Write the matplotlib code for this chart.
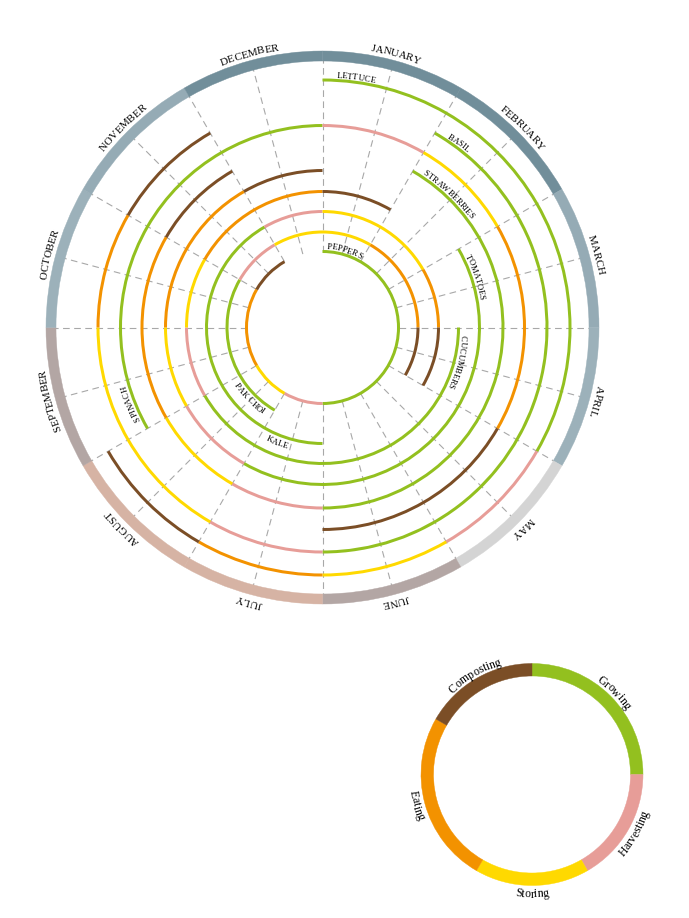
import numpy as np
import matplotlib
matplotlib.use('Agg')
import matplotlib.pyplot as plt
from matplotlib.font_manager import FontProperties, findfont
from matplotlib.ft2font import FT2Font

# ---------------- data ----------------
months = ['JANUARY', 'FEBRUARY', 'MARCH', 'APRIL', 'MAY', 'JUNE', 'JULY',
          'AUGUST', 'SEPTEMBER', 'OCTOBER', 'NOVEMBER', 'DECEMBER']
month_colors = ['#718e9a', '#718e9a', '#95abb5', '#9cb1ba', '#d4d4d4', '#b3a6a4',
                '#d6b3a4', '#d6b3a4', '#b3a6a4', '#9cb1ba', '#95abb5', '#718e9a']

phases = ['Growing', 'Harvesting', 'Storing', 'Eating', 'Composting']
phase_colors = ['#93c01f', '#e79d98', '#ffd900', '#f39200', '#7b4e26']
legend_share = [3, 2, 2, 3, 2]

# crops from the outermost ring to the innermost one
crops = ['LETTUCE', 'BASIL', 'SPINACH', 'STRAWBERRIES', 'TOMATOES',
         'CUCUMBERS', 'KALE', 'PAK CHOI', 'PEPPERS']
crop_start_month = [0, 1, 8, 1, 2, 3, 6, 7, 0]
growing_months = [4, 5, 4, 5, 5, 5, 5, 3, 6]
harvesting_months = [1, 1, 1, 1, 1, 1, 1, 1, 1]
storing_months = [1, 2, 1, 1, 1, 1, 2, 2, 1]
eating_months = [1, 1, 2, 2, 2, 2, 1, 2, 2]
composting_months = [1, 1, 2, 1, 1, 1, 1, 1, 1]

# ---------------- layout / style ----------------
W, H, DPI = 689, 918, 100
FONT = ['Liberation Serif', 'DejaVu Serif']
TEXT_COLOR = '#000000'
SERIF_PATH = findfont(FontProperties(family='Liberation Serif'))
plt.rcParams['font.family'] = FONT

RING_RADII = [247.5, 224.5, 202, 180.5, 157, 136, 116, 95.5, 76]
ARC_W = 3.0
MONTH_R0, MONTH_R1 = 266.5, 276.5
LABEL_OFFSET = 3.2


def char_advances(text, size_pt):
    f = FT2Font(SERIF_PATH)
    f.set_size(size_pt, DPI)
    return np.array([f.load_char(ord(c)).linearHoriAdvance / 65536.0 for c in text])


def text_sweep(text, r_base, size):
    return char_advances(text, size).sum() * 180 / np.pi / r_base


def curved_text(ax, text, r_base, theta_ref, size, anchor='start', flip=False):
    adv = char_advances(text, size)
    deg_per_px = 180 / np.pi / r_base
    sweep = adv.sum() * deg_per_px
    sign = -1 if flip else 1
    th_start = theta_ref - sign * sweep / 2 if anchor == 'center' else theta_ref
    centers = np.cumsum(adv) - adv / 2
    for c, s in zip(text, centers):
        if c == ' ':
            continue
        th = th_start + sign * s * deg_per_px
        rot = (180 - th) if flip else -th
        ax.text(np.deg2rad(th), r_base, c, rotation=rot, rotation_mode='anchor',
                ha='center', va='baseline', fontsize=size, family=FONT,
                color=TEXT_COLOR, clip_on=False, zorder=6)


fig = plt.figure(figsize=(W / DPI, H / DPI), dpi=DPI)
fig.patch.set_facecolor('white')

# ---------------- main wheel ----------------
CX, CY, RAX = 322.5, 327.5, 310
ax = fig.add_axes([(CX - RAX) / W, (H - CY - RAX) / H, 2 * RAX / W, 2 * RAX / H],
                  projection='polar')
ax.set_theta_zero_location('N')
ax.set_theta_direction(-1)
ax.set_ylim(0, RAX)
ax.set_axis_off()

# dashed radial guides every half month
for k in range(24):
    th = np.deg2rad(k * 15)
    ax.plot([th, th], [RING_RADII[-1], 268], color='#a8a8a8', lw=0.8,
            linestyle=(0, (6, 4)), zorder=1)

# month ring
for i, m in enumerate(months):
    ax.bar(np.deg2rad(i * 30), MONTH_R1 - MONTH_R0, width=np.deg2rad(30),
           bottom=MONTH_R0, align='edge', color=month_colors[i],
           edgecolor=month_colors[i], linewidth=0.3, zorder=3)
    curved_text(ax, m, 280.5, i * 30 + 15, 7.8, anchor='center')

# crop rings
durations = list(zip(growing_months, harvesting_months, storing_months,
                     eating_months, composting_months))
for i, crop in enumerate(crops):
    r = RING_RADII[i]
    t = crop_start_month[i]
    for p, dur in enumerate(durations[i]):
        ax.bar(np.deg2rad(t * 30), ARC_W, width=np.deg2rad(dur * 30),
               bottom=r - ARC_W / 2, align='edge', color=phase_colors[p],
               linewidth=0, zorder=2)
        t += dur
    th0 = crop_start_month[i] * 30
    mid = th0 + LABEL_OFFSET + text_sweep(crop, r + 2.5, 6.2) / 2
    if 120 < mid % 360 < 240:
        curved_text(ax, crop, r + 10, th0 + 30 - LABEL_OFFSET, 6.2, flip=True)
    else:
        curved_text(ax, crop, r + 2.5, th0 + LABEL_OFFSET, 6.2)

# ---------------- legend wheel ----------------
LX, LY, LR = 532, 774.5, 140
ax2 = fig.add_axes([(LX - LR) / W, (H - LY - LR) / H, 2 * LR / W, 2 * LR / H],
                   projection='polar')
ax2.set_theta_zero_location('N')
ax2.set_theta_direction(-1)
ax2.set_ylim(0, LR)
ax2.set_axis_off()

total = sum(legend_share)
start = 0.0
for p, name in enumerate(phases):
    span = legend_share[p] / total * 360
    ax2.bar(np.deg2rad(start), 12.5, width=np.deg2rad(span), bottom=98.5,
            align='edge', color=phase_colors[p], edgecolor=phase_colors[p],
            linewidth=0.3)
    mid = start + span / 2
    if 90 < mid < 270:
        curved_text(ax2, name, 123, mid, 8.5, anchor='center', flip=True)
    else:
        curved_text(ax2, name, 113.5, mid, 8.5, anchor='center')
    start += span

fig.savefig('out.png', dpi=DPI, facecolor='white')
